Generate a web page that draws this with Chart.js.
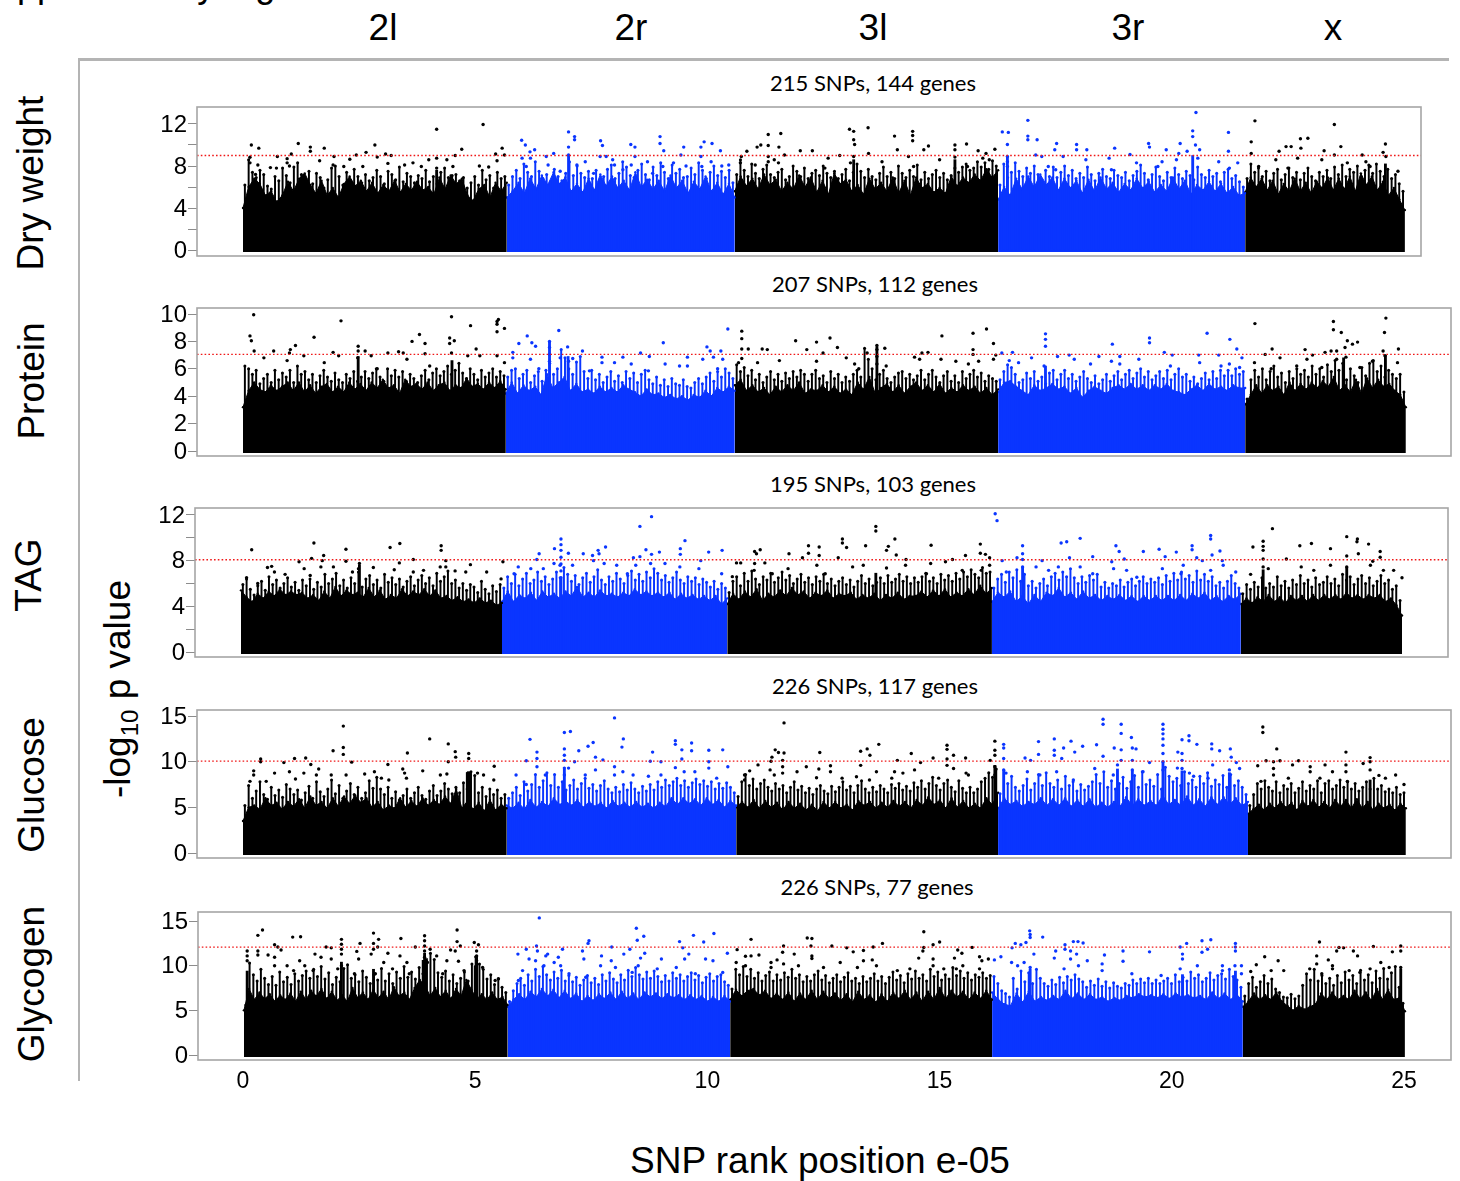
<!DOCTYPE html>
<html><head><meta charset="utf-8">
<script src="https://cdn.jsdelivr.net/npm/chart.js@4"></script>
<style>
html,body{margin:0;padding:0;background:#fff;width:1460px;height:1181px;overflow:hidden;position:relative}
canvas{position:absolute}
.t{position:absolute;font-family:"Liberation Sans",Arial,sans-serif;font-size:37px;color:#000;white-space:nowrap;line-height:1;transform:translate(-50%,-50%)}
.r{transform:translate(-50%,-50%) rotate(-90deg)}
.s{font-family:Lato,sans-serif;font-size:22px}
.f{position:absolute;background:#b4b4b4}
sub{font-size:24px;line-height:0}
</style></head><body>
<div class="t" style="left:-27px;top:-33px;transform:none;font-size:36px">Supplementary Figure</div>
<div class="f" style="left:78px;top:58px;width:1371px;height:3px"></div>
<div class="f" style="left:78px;top:58px;width:2px;height:1023px"></div>
<div id="labels"></div>
<div id="charts"></div>
<script>
const armNames=["2l","2r","3l","3r","x"];
const xTicksLabelled=[0,5,10,15,20,25];

// ---- Dry weight ----
const dryBreaks=[0,5.68,10.59,16.26,21.58,25.02];
const dry2l=[4.0,6.0,6.8,6.3,5.2,5.6,4.6,5.2,6.5,5.6,6.8,7.3,6.2,5.4,6.6,5.2,5.9,5.0,6.3,7.0,6.1,6.6,5.6,6.4,5.4,6.2,5.6,6.6,5.5,6.3,5.7,6.5,5.7,6.0,5.3,6.9,5.8,7.1,6.3,6.8,5.2,4.7,5.8,6.2,5.0,6.4,5.6,6.4];
const dry2r=[5.0,5.6,6.4,5.4,6.8,5.8,7.1,6.2,7.4,6.3,6.9,5.6,6.3,5.5,6.8,5.7,7.2,6.1,7.0,5.9,6.6,5.7,7.4,6.0,6.7,5.8,6.6,5.6,7.1,5.9,6.6,5.4,6.5,5.8,7.0,5.6,6.4,5.3,6.3,5.0];
const dry3l=[5.6,7.0,6.1,6.8,5.8,7.2,6.2,6.7,5.6,6.4,5.8,7.1,6.0,6.9,5.5,6.6,5.3,7.3,6.3,6.7,5.6,6.2,5.3,6.8,5.8,6.4,5.6,6.9,5.4,6.6,5.2,6.9,5.9,6.3,5.5,5.9,5.4,7.0,6.1,6.9,6.4,7.2,6.6,7.7,6.9,7.6];
const dry3r=[4.8,6.0,5.2,6.8,5.8,7.0,6.0,7.2,6.2,6.9,5.7,6.8,5.9,6.6,5.4,6.7,5.6,6.9,5.8,6.4,5.5,6.3,5.7,6.8,5.9,6.5,5.5,6.2,5.6,6.9,5.8,6.6,5.3,6.2,5.7,6.5,5.6,6.3,5.4,6.0,5.2,5.4];
const dryX=[5.5,6.9,6.0,6.8,5.7,6.6,5.3,6.3,5.6,6.8,5.6,6.4,5.4,6.5,5.9,6.9,5.7,6.8,5.8,7.0,5.6,7.3,6.2,7.0,5.7,6.5,5.2,5.9,4.8,3.8];
const dry2lTop=[6.2,8.6,7.4,6.9,7.6,7.2,6.1,5.8,7.0,6.6,7.8,7.1,6.4,7.9,8.3,7.2,6.8,7.5,6.3,7.3,6.9,5.9,6.7,7.8,8.0,7.0,6.2,7.4,6.6,7.7,7.0,6.4,7.2,6.6,6.9,7.6,7.0,6.3,7.5,7.2,6.7,7.9,6.5,7.3,7.0,6.4,7.1,6.8,7.6,6.5,7.0,6.3,7.4,7.8,6.9,7.1,7.2,6.6,6.9,5.9,6.4,7.0,6.2,7.6,6.7,7.1,5.9,7.4,6.8,7.0];
const dry2rTop=[6.2,7.0,7.6,6.8,8.2,7.4,7.0,8.4,7.5,6.8,7.2,6.5,7.7,7.0,6.6,7.3,8.4,7.1,8.0,7.3,6.9,7.5,6.8,7.6,6.7,7.0,7.7,8.1,6.8,7.3,8.4,7.9,7.1,6.9,7.6,8.2,7.2,6.7,7.9,7.1,8.3,7.4,6.8,8.1,7.3,7.7,6.9,7.0,7.8,7.2,8.3,7.6,6.8,7.4,8.0,7.1,7.5,6.9,7.6,6.4];
const dry3lTop=[7.2,8.6,7.6,7.0,8.2,7.3,6.8,7.7,8.1,7.2,6.9,7.4,7.7,6.7,7.0,8.0,7.5,7.0,7.8,6.8,7.3,7.6,7.1,8.0,7.3,6.9,7.5,6.8,7.2,7.7,6.6,7.4,8.2,7.5,6.9,7.7,7.0,6.7,7.3,7.9,7.0,7.4,6.8,8.0,7.3,6.9,7.6,7.0,8.1,6.7,7.4,6.8,7.2,7.6,6.9,7.3,6.7,7.1,7.8,7.4,7.9,8.2,7.6,7.8,8.4,7.9,8.3,7.7,8.5,8.0];
const dry3rTop=[6.2,8.2,6.9,7.4,8.3,7.5,7.0,7.8,7.3,8.0,7.2,6.7,7.6,7.0,7.9,6.9,7.4,8.0,7.1,7.6,6.8,7.3,6.9,7.9,7.2,6.6,7.3,7.7,7.0,6.8,7.6,7.1,6.9,7.4,6.6,7.1,7.5,8.1,7.3,6.7,7.2,7.9,7.0,6.6,7.4,6.9,7.8,7.2,6.8,7.5,7.1,6.7,7.9,7.2,6.9,7.6,7.0,7.3,6.5,7.4,7.7,6.8,7.1,6.5,6.0];
const dryXTop=[6.8,8.2,7.4,7.8,7.0,7.5,6.6,7.3,7.7,6.7,7.2,7.8,6.9,7.4,6.7,7.3,7.8,7.0,6.6,7.4,7.0,7.6,6.8,7.9,7.2,8.1,7.0,7.7,7.4,8.0,7.0,7.6,8.1,7.3,8.2,7.5,7.0,7.7,6.8,7.2,6.3,5.6];
const dryTowers=[[7.01,9.0],[16.46,8.9],[20.45,9.0],[13.15,8.6],[4.17,7.6],[15.33,8.6],[24.6,8.2]];
const dryBlackDots=[[.18,10],[.34,9.7],[.15,8.84],[.15,8.3],[.27,7.2],[.32,8.1],[.74,8.9],[.95,8.7],[1.04,9.15],[1.19,10.15],[1.45,9.8],[1.45,9.4],[1.75,9.7],[1.65,8.5],[1.96,8.9],[2.44,9.05],[2.65,9.3],[2.84,10],[2.89,8.85],[3.07,9.15],[3.19,9],[4.17,11.5],[4.17,8.75],[4.17,7.8],[4.71,9.6],[4.57,9],[5.17,11.95],[5.44,9.15],[5.58,9.7],[5.63,9.05],[5.47,8.5],[5.09,8],[5.29,7.9],[.59,7.85],[.72,7.8],[.95,8.3],[1.0,8],[2.3,8.65],[2.58,7.95],[3.12,8.25],[3.48,8.1],[3.66,8.3],[3.84,7.95],[4.0,8.6],[4.39,8.6],[4.52,7.95],[1.94,8.1],[2.17,7.95],[10.85,9.4],[10.73,8.9],[11.07,9.8],[11.15,10],[11.31,11],[11.31,9.95],[11.58,11.1],[11.54,9.8],[11.66,9.05],[11.31,8.9],[11.44,8.6],[10.71,8.3],[11.03,8.1],[11.31,8.4],[11.53,8.3],[12,9.45],[12.26,9.45],[12.6,8.75],[12.85,9],[13.06,11.5],[13.15,11.3],[13.15,10.5],[13.17,10.05],[13.15,8.9],[13.46,11.65],[13.47,9.2],[14.03,10.85],[14.42,11.3],[14.42,10.9],[14.42,10.4],[14.09,9.55],[14.33,8.9],[14.66,9.55],[14.76,9.9],[15.33,10],[15.33,9.55],[15.33,8.85],[15.58,10.1],[15.83,9.45],[16,9.2],[16.19,9.6],[16.07,8.6],[15.93,8.75],[15,8.6],[13.76,8.4],[13.08,8.3],[12.53,7.8],[14.44,7.95],[15.6,7.95],[21.79,12.3],[21.71,10.3],[21.71,9.2],[22.31,9.4],[22.46,9.85],[22.57,9.85],[22.77,10.6],[22.93,10.65],[22.78,9.7],[22.71,8.75],[23.28,9.45],[23.5,11.95],[23.64,9.85],[23.5,9.05],[24.1,9.05],[24.6,10.1],[24.55,9.3],[24.61,8.9],[22.24,8.6],[23.23,8.6],[23.78,8.3],[24.18,8.4],[21.87,7.95],[22.5,7.8],[24.27,7.95],[24.87,7.5]];
const dryBlueDots=[[6,10.45],[6.08,10],[6.18,9.35],[6.28,9.55],[6.69,9.2],[6.53,8.9],[7.01,11.25],[7.14,10.8],[7.14,10.5],[7.01,9.8],[7.01,9.05],[7.7,10.4],[7.74,9.95],[7.69,8.9],[7.82,8.9],[8.35,10.05],[8.44,9.8],[8.44,8.9],[8.98,10.8],[8.98,10.15],[9.06,9.45],[9.49,9.8],[9.43,9.05],[9.86,9.8],[9.93,10.3],[9.86,8.9],[10.1,10.15],[10.28,9.45],[6.01,8.75],[6.1,7.95],[6.19,8.75],[6.57,8.1],[7.19,8.1],[7.37,8.4],[7.96,8.6],[8,8.1],[8.36,8.1],[8.71,8.4],[9.04,7.95],[9.27,8.3],[9.54,8],[9.88,7.95],[10.08,8.4],[10.31,8],[10.46,8.1],[6.83,7.5],[7.55,7.3],[8.18,7.65],[8.82,7.3],[16.35,11.25],[16.48,11.2],[16.46,10.05],[16.9,12.35],[16.9,10.85],[16.9,10.5],[17.1,10.5],[16.46,8.9],[16.46,8.4],[16.46,7.95],[17.52,10.15],[17.48,9.55],[17.95,10.05],[17.95,9.55],[18.17,9.55],[18.77,9.7],[19.1,9.1],[19.5,10.15],[19.52,9.8],[19.88,9.55],[20.18,10.15],[20.52,13.1],[20.45,11.35],[20.45,10.8],[20.51,10],[20.6,9.55],[21.22,11.2],[21.22,9.4],[20.15,9.2],[20.33,9.4],[20.56,8.75],[18.65,8.75],[17.07,9.05],[17.2,8.9],[17.66,8.9],[18.15,8.6],[19.24,8.3],[19.79,8.4],[20.1,8.6],[21.01,8.4],[21.42,8.3],[17.34,7.95],[18.7,7.65],[17.5,7.65],[19.7,7.95],[21.24,7.8]];

// ---- Protein ----
const proteinBreaks=[0,5.66,10.59,16.26,21.58,25.04];
const protein2l=[3.2,4.4,5.0,4.5,4.3,4.8,4.4,4.7,5.0,4.4,5.0,4.3,4.8,4.2,4.7,4.9,4.3,4.7,4.3,5.0,4.5,4.9,4.4,5.0,4.6,5.2,4.6,4.8,4.2,5.2,4.7,4.9,4.5,5.0,4.4,4.8,5.0,4.4,4.8,4.6,5.3,4.7,4.9,4.5,5.0,4.6,5.1,4.5];
const protein2r=[4.2,5.0,4.2,4.8,4.4,4.7,4.1,5.6,4.6,5.0,5.4,4.4,4.9,4.3,4.5,4.2,4.7,4.3,4.6,4.3,4.8,4.5,4.3,4.0,4.5,4.1,4.2,3.9,4.1,3.8,4.0,3.7,4.1,3.9,4.4,4.0,4.6,4.3,4.7,4.4];
const protein3l=[4.8,5.2,4.4,4.8,4.3,4.6,4.1,4.7,4.3,4.8,4.4,5.0,4.2,4.5,4.4,4.8,4.3,4.7,4.2,4.5,4.1,5.0,4.5,5.4,4.2,4.6,4.9,4.3,4.8,4.2,4.7,5.0,4.4,4.8,4.3,4.9,4.2,4.6,4.3,4.8,4.4,4.7,4.2,4.6,4.1,4.5];
const protein3r=[4.3,5.0,5.1,4.7,4.4,4.1,4.8,4.4,4.6,4.9,4.5,4.7,4.2,4.6,3.9,4.4,4.7,4.4,4.2,4.6,4.8,4.5,4.9,4.5,4.8,4.4,4.8,4.5,4.9,4.4,4.3,4.1,4.5,4.8,4.4,4.9,4.5,4.7,4.4,4.8,4.6,4.6];
const proteinX=[3.4,4.1,4.8,4.2,4.8,4.4,4.7,4.1,5.0,4.4,4.9,4.5,5.0,4.6,5.1,4.7,5.4,4.4,4.8,4.3,5.2,4.2,5.3,4.6,5.2,4.7,4.9,4.4,4.1,3.2];
const protein2lTop=[6.2,6.0,5.6,5.9,4.9,5.3,5.6,5.0,5.9,5.2,5.7,5.4,5.9,5.0,6.2,5.6,5.8,5.2,5.6,5.0,5.5,5.9,5.4,5.1,5.7,5.2,5.0,5.6,5.3,5.8,5.1,5.4,5.8,5.3,5.7,6.0,5.4,5.1,6.0,5.5,5.9,5.4,5.8,5.1,5.6,5.3,5.0,5.5,5.9,5.2,5.7,6.0,5.5,5.8,6.2,5.6,5.9,6.4,5.7,5.3,6.0,5.6,5.2,5.9,5.4,5.7,6.0,5.4,5.8,5.5];
const protein2rTop=[5.4,5.9,6.0,5.3,5.6,5.9,5.0,5.5,5.8,5.1,5.9,6.4,5.6,6.0,7.4,6.8,6.0,5.6,6.5,6.9,5.8,5.3,5.9,5.2,5.6,5.0,5.4,5.8,5.1,5.5,5.0,5.8,5.3,5.7,5.0,5.6,5.9,5.2,4.9,5.4,4.8,5.2,4.7,5.3,4.9,4.8,5.2,4.7,4.6,5.0,5.3,4.9,5.4,5.7,5.1,5.8,5.4,6.0,5.7,5.3];
const protein3lTop=[6.3,5.8,6.1,5.5,5.9,5.2,5.6,5.0,5.4,5.8,5.2,5.6,5.1,5.7,5.3,5.8,5.4,5.9,5.6,5.1,5.6,5.9,5.3,5.5,5.0,5.8,5.3,5.6,5.0,5.4,5.1,5.6,5.9,5.4,7.5,6.7,6.0,5.2,5.6,5.9,5.3,5.0,5.4,5.7,5.8,5.3,5.6,5.2,5.5,5.9,5.2,5.6,5.9,5.4,5.0,5.5,5.8,5.1,5.5,5.0,5.8,5.3,5.6,5.9,5.4,5.7,5.1,5.5,5.3,5.1];
const protein3rTop=[5.2,5.8,6.3,6.1,5.6,5.0,5.2,5.7,5.3,5.8,5.1,5.4,4.9,5.7,5.9,5.2,5.6,5.9,5.3,5.6,5.1,5.4,5.8,5.3,5.0,5.5,4.9,5.2,5.6,5.1,5.5,5.8,5.2,5.6,5.9,5.3,5.7,6.0,5.4,5.8,5.2,5.5,5.8,5.3,5.9,5.2,5.6,6.0,5.4,5.6,5.1,5.4,4.9,5.3,5.7,5.2,5.8,5.3,5.9,5.5,5.9,5.5,6.0,5.6,5.8];
const proteinXTop=[3.8,5.2,5.9,5.4,6.0,5.2,5.8,6.2,5.4,5.7,5.0,5.8,5.3,6.0,5.6,5.9,5.4,6.2,5.6,6.0,5.4,6.3,5.8,6.6,5.9,6.4,5.2,6.0,5.5,5.0,6.1,5.5,6.4,6.6,5.8,6.2,5.4,5.9,5.6,5.3,5.6,4.3];
const proteinTowers=[[13.65,7.6],[6.6,8],[7.0,6.9],[24.6,7.0],[23.7,6.8],[4.5,6.6],[2.48,6.9],[17.28,6.2]];
const proteinBlackDots=[[.23,9.95],[.15,8.4],[.18,8.05],[.24,7.3],[.66,7.3],[1.13,7.7],[1.53,8.3],[1.02,7.4],[1,7.15],[2.11,9.5],[1.94,7.2],[2.06,6.95],[2.48,7.65],[2.48,7.3],[2.63,7.3],[3.12,7.15],[3.35,7.25],[3.45,7.15],[3.64,8],[3.8,8.5],[3.92,7.85],[3.92,7.1],[4.45,8.25],[4.45,7.85],[4.55,8.05],[4.49,7.15],[4.49,9.8],[4.9,9.15],[5.02,7.45],[5.47,9.45],[5.5,9.6],[5.47,9.25],[5.47,8.7],[5.63,8.95],[5.47,6.95],[1.31,6.95],[.45,6.8],[.95,6.6],[1.75,6.45],[2.47,6.8],[2.76,6.95],[3.53,6.7],[4.02,6.2],[4.84,6.95],[5.1,6.95],[5.63,6.45],[2.89,6],[10.74,8.75],[10.74,8.2],[10.74,7.45],[10.88,7.45],[11.18,7.45],[11.29,7.4],[11.9,8.05],[10.74,6.75],[10.67,6.45],[11.08,6.45],[11.55,6.6],[12.14,7.4],[12.35,7.95],[12.64,8.25],[12.49,7.15],[12.8,7.55],[13.44,7.15],[13.65,7.7],[13.65,7.4],[13.65,6.9],[13.65,6.35],[13.82,7.5],[14.46,6.85],[14.62,7.15],[14.75,7.2],[15.05,8.4],[15.72,8.6],[15.72,7.4],[15.72,7.05],[16.01,8.9],[16.16,7.85],[16.21,7],[12.35,6.55],[12.99,6.8],[13.17,6.35],[13.26,6],[14.57,6.7],[15.03,6.7],[15.35,6.55],[15.62,6.35],[15.84,6.55],[13.85,6.2],[16.16,6.7],[21.79,9.3],[22.01,7.05],[22.16,7.45],[22.33,6.8],[22.87,7.4],[23.03,7],[23.3,7.2],[23.43,7.3],[23.48,9.45],[23.48,8.85],[23.65,8.65],[23.78,8.05],[23.89,7.8],[24,7.95],[23.73,7.55],[23.55,7.3],[24.61,9.7],[24.58,8.65],[24.55,7.3],[24.88,7.45],[24.59,6.95],[23.75,6.85],[23.55,6.7],[21.78,6.45],[22.69,6.2],[23.23,6.1],[24.05,6.1],[24.32,6.55],[24.86,6.45],[22.14,6],[22.91,6.7]];
const proteinBlueDots=[[5.81,7.2],[5.81,6.8],[5.94,7.85],[6.12,8.4],[6.22,7.9],[6.3,7.65],[6.6,8],[6.6,7.55],[6.6,7.05],[6.6,6.55],[6.8,8.8],[6.99,7.6],[7.01,6.55],[7.31,7.3],[7.73,6.85],[7.73,6.45],[8.18,6.85],[8.56,7.15],[8.75,6.9],[9.05,7.9],[9.57,6.85],[9.57,6.2],[9.99,7.6],[10.06,7.3],[10.29,7.3],[10.44,8.9],[10.13,6.85],[10.33,6.7],[6.19,6.7],[6.37,6],[6.83,6.8],[7.1,6.75],[7.46,5.85],[8,6.45],[8.36,6.35],[9.09,6.35],[9.4,6.2],[9.9,6.7],[10.22,6],[8.73,5.85],[16.34,7.15],[16.57,7.2],[16.5,6.6],[17.28,8.55],[17.28,8.15],[17.28,7.65],[17.54,6.9],[17.79,7],[17.9,6.7],[18.72,7.8],[18.88,6.9],[18.88,6.35],[19.52,8.25],[19.52,7.9],[19.84,7.2],[20.01,7],[20.76,8.6],[20.58,7],[21.25,8.15],[21.4,7.45],[21.51,6.8],[21.01,7],[16.7,6.45],[16.98,6.8],[18.43,6.9],[18.7,6.55],[19.29,6.7],[20.6,6.45],[21.24,6.35],[21.06,6.2],[17.25,6.2],[18.25,6.35],[19.97,6.2],[21.46,6.1]];

// ---- TAG ----
const tagBreaks=[0,5.62,10.47,16.17,21.53,25];
const tag2l=[5.4,4.8,4.4,5.1,4.7,5.3,4.9,5.5,5.0,5.3,5.0,5.2,4.7,5.0,4.5,5.3,4.7,5.7,4.9,5.4,5.0,5.2,4.8,5.6,4.8,5.4,4.6,5.0,4.7,5.5,4.9,5.3,5.0,5.5,4.9,5.4,4.7,4.9,4.5,4.8,4.4,4.6,4.3,4.7,4.3,4.5,4.1,4.3];
const tag2r=[4.4,5.3,4.4,5.0,4.7,5.2,4.5,5.3,4.8,5.1,4.7,5.3,4.9,5.7,4.8,5.2,4.8,5.4,4.9,5.1,4.8,5.2,4.9,5.5,5.0,5.3,4.9,5.2,4.8,5.2,4.6,5.1,4.7,5.0,4.6,4.9,4.5,4.9,4.2,4.7];
const tag3l=[4.2,5.1,4.6,5.3,4.8,5.5,4.5,5.1,4.8,5.4,4.9,5.6,5.0,5.3,4.7,5.2,4.9,5.4,4.7,5.1,4.9,5.2,4.6,5.0,4.7,5.1,4.5,5.0,4.7,5.2,4.6,4.9,4.9,5.3,4.8,5.4,4.9,5.5,4.8,5.2,4.9,5.5,5.0,5.8,5.1,5.6];
const tag3r=[4.4,5.2,4.8,5.3,4.4,4.9,4.2,5.0,4.4,5.2,4.9,5.6,4.8,5.2,4.6,5.3,4.7,5.0,4.5,4.9,4.6,5.0,4.5,4.9,4.4,4.9,4.5,4.9,4.5,4.9,4.5,5.0,4.5,5.1,4.7,5.2,4.5,4.9,4.4,4.9,4.6,5.1];
const tagX=[4.2,4.7,4.3,4.8,4.4,5.0,4.4,4.8,4.3,4.9,4.5,4.9,4.4,5.0,4.5,5.0,4.6,5.0,4.6,5.2,4.7,5.0,4.6,5.0,4.7,5.0,4.4,4.7,4.1,3.2];
const tag2lTop=[5.9,6.4,5.5,5.0,5.8,6.2,5.4,6.6,5.9,6.3,5.6,6.0,6.5,5.7,6.1,5.4,6.3,5.8,6.4,5.5,6.1,5.7,6.8,6.0,6.4,6.9,5.8,6.3,5.6,6.5,6.0,7.0,5.7,6.4,6.7,5.9,6.3,5.6,6.8,6.1,6.5,5.9,6.4,5.7,6.2,6.6,5.8,6.3,6.7,6.0,6.5,5.8,6.9,6.2,6.6,7.1,6.0,6.3,5.6,6.0,5.4,5.9,5.7,5.2,6.2,5.5,5.1,5.8,5.3,5.9];
const tag2rTop=[5.6,6.6,6.0,6.8,5.8,6.4,6.9,6.0,6.3,7.0,6.2,6.6,5.9,6.4,7.0,6.5,7.4,6.8,6.2,6.7,5.9,6.5,6.9,6.1,6.6,7.2,6.3,5.9,6.6,6.2,6.9,6.4,6.0,6.7,7.1,6.3,6.8,6.2,7.0,6.5,7.3,6.9,6.3,6.7,6.1,6.5,7.0,6.3,6.0,6.6,6.2,6.5,5.9,6.4,6.1,5.7,6.2,5.5,6.0,5.6];
const tag3lTop=[5.2,6.2,6.6,5.8,6.9,6.2,7.1,6.4,5.9,6.6,6.3,6.9,6.1,6.5,7.0,6.3,6.7,6.0,6.4,6.8,6.1,6.5,5.9,6.6,6.2,6.8,6.0,6.4,5.8,6.2,6.5,5.9,6.3,5.7,6.2,6.7,6.0,6.4,5.8,6.1,6.5,6.0,6.7,6.1,6.4,6.8,6.2,6.6,6.0,6.5,6.1,6.6,6.9,6.2,6.5,6.0,6.8,6.3,6.7,6.2,6.9,6.4,7.0,6.6,7.2,6.8,6.5,7.4,6.9,7.0];
const tag3rTop=[5.6,6.4,6.8,6.1,7.0,6.5,7.2,6.2,6.8,5.8,6.2,5.6,6.0,6.4,5.8,6.6,6.9,6.3,7.0,6.6,7.3,6.5,6.0,6.6,6.1,6.7,6.3,6.8,5.7,6.1,5.6,6.0,5.8,6.3,5.7,6.1,6.4,5.8,6.2,6.6,6.0,6.4,6.1,6.5,5.9,6.7,6.2,6.9,6.3,7.0,6.4,6.7,6.1,7.1,6.3,6.8,6.2,6.6,5.8,6.1,5.6,6.2,6.7,6.0,5.6];
const tagXTop=[5.1,5.9,5.5,6.1,5.7,6.5,5.6,6.0,5.7,6.6,5.8,6.2,5.6,6.3,5.9,6.7,6.0,6.3,5.7,6.5,5.9,6.1,6.6,6.0,6.4,5.8,6.8,6.3,6.6,5.9,6.4,6.7,6.0,6.5,5.8,6.2,6.7,6.0,6.3,5.5,5.8,4.5];
const tagTowers=[[6.89,6.4],[16.83,7.4],[23.81,7.4],[2.55,7.6],[13.67,6.9],[22.01,7.2]];
const tagBlackDots=[[.23,8.95],[.12,6.5],[.66,7.5],[.57,7.4],[1.25,7.9],[1.52,8.2],[1.57,9.55],[1.78,8.45],[1.75,8],[2.26,9],[2.26,7.95],[3.21,9.15],[3.42,9.5],[3.41,7.8],[3.71,8.1],[4.31,9.3],[4.31,8.9],[4.41,8],[4.41,7.45],[4.94,7.65],[5.64,7.9],[2.55,7.75],[2.85,7.4],[3.3,7.2],[3.71,7],[3.93,7.15],[4.29,7.45],[4.61,7.1],[5.29,7],[4.84,7],[.72,7],[1.36,7.3],[1.72,7.45],[1.99,7.45],[2.4,7],[2.53,7.3],[.36,6],[.95,6.8],[1.49,6.7],[5.6,6.4],[10.67,7.8],[10.76,7.8],[11.06,8.8],[11.1,8.6],[11.18,8.95],[11.28,7.8],[11.06,7.75],[11.8,8.6],[11.78,7.3],[11.05,7.15],[10.58,6.6],[11.44,6.85],[12.09,8.25],[12.22,9.3],[12.22,8.65],[12.45,9.2],[12.45,8.45],[12.95,9.9],[12.95,9.55],[13.04,9.15],[13.45,9.3],[13.67,11],[13.67,10.6],[13.9,8.9],[13.94,9.25],[14.08,9.9],[14.11,8.5],[14.32,8.1],[14.86,9.35],[15.32,8.1],[15.6,8.45],[15.92,9.45],[15.92,8.65],[16.03,8.55],[16.12,8.25],[16.12,7.6],[12.4,7.6],[13.17,7.45],[13.4,7.6],[13.9,7.35],[14.31,7.6],[14.85,7.75],[15.17,7.9],[12.86,8.25],[15.94,7.15],[15.53,7.15],[14.76,6.85],[12.58,6.85],[21.79,9.2],[22.01,9.7],[22.01,9.25],[22.01,8.9],[22.01,8.15],[22.21,10.8],[22.51,8.15],[22.8,9.3],[23.05,9.5],[23.46,9.05],[23.81,10.1],[24.04,9.9],[24.03,9.65],[24.28,9.45],[23.81,8.4],[24.06,8.6],[24.53,8.8],[24.53,8.3],[24.37,7.95],[24.32,7.6],[23.81,7.45],[23.46,7.6],[22.12,7.3],[22.83,7.45],[22.01,7.45],[25,6.5],[24.82,7.15],[24.6,7.15],[21.74,6.8],[23.1,7.15]];
const tagBlueDots=[[6.42,8.6],[6.37,8.1],[6.75,9.05],[6.89,9.9],[6.89,9.4],[6.89,8.9],[6.89,8.3],[6.89,7.7],[6.89,7.1],[6.89,6.5],[7.05,8.65],[7.37,8.6],[7.57,8.45],[7.69,8.9],[7.71,8.6],[7.85,9.2],[8.59,11],[8.84,11.85],[8.45,8.25],[8.59,8.35],[8.72,8.95],[8.84,8.55],[9.01,8.75],[9.46,9.05],[9.46,8.55],[9.56,9.75],[9.9,8],[10.07,8.75],[10.36,8.9],[5.97,7.45],[6.24,7.3],[6.51,7.3],[6.74,7.75],[7.14,7.6],[7.59,8],[7.82,7.75],[8.09,7.6],[8.5,7.6],[8.82,7.75],[9.13,7.75],[9.45,7.45],[9.86,7.3],[10.35,6.85],[5.88,6.85],[6.87,7.6],[8.32,6.85],[16.24,12.1],[16.28,11.5],[16.83,9.3],[16.83,8.6],[16.83,8.1],[16.83,7.45],[16.71,8.25],[16.39,8],[16.48,7],[17.66,9.55],[17.78,9.65],[18.07,9.95],[17.84,8.25],[18.34,8.35],[18.84,9.3],[18.91,8.8],[19.02,8.15],[19.43,8.8],[19.77,9],[19.9,8.35],[20.14,8.75],[20.48,9.3],[20.48,8.95],[20.88,10.2],[20.88,9.9],[21.08,8.85],[20.91,8.5],[20.58,8.25],[20.7,8],[21.13,8],[21.15,7.6],[17.25,8],[17.12,7.45],[17.6,7.45],[18.07,7.45],[18.75,7.9],[18.79,7.3],[18.34,6.85],[19.07,7.15],[20.29,7.6],[20.24,6.85],[20.88,7.15],[21.42,7],[19.84,7.3],[19.29,6.55],[17.39,7.15]];

// ---- Glucose ----
const glucoseBreaks=[0,5.68,10.62,16.26,21.64,25.04];
const glucose2l=[3.5,5.0,5.2,4.8,6.0,5.2,5.5,4.8,5.6,5.1,5.9,4.9,6.2,5.2,5.6,4.9,6.0,5.1,6.2,5.4,6.3,5.5,6.0,5.0,5.6,4.7,5.2,4.9,6.0,5.0,5.7,5.1,6.0,5.2,5.8,5.3,6.2,5.4,7.0,4.9,5.7,4.8,5.5,4.6,5.8,4.7,5.3,4.9];
const glucose2r=[5.2,4.9,5.5,4.8,5.8,5.0,5.6,5.1,6.0,5.3,5.7,5.2,5.8,5.0,5.6,5.1,5.5,4.9,5.7,5.1,5.5,5.0,5.6,5.0,5.4,4.9,5.5,5.1,6.0,5.3,6.0,5.4,5.9,5.2,6.0,5.3,5.8,5.0,5.7,5.2];
const glucose3l=[5.0,5.6,5.0,5.8,4.9,5.7,5.0,5.5,4.7,5.6,4.9,5.4,4.7,5.3,4.6,5.6,4.9,5.6,4.9,5.3,4.7,5.7,5.2,5.6,4.9,5.5,5.0,5.7,5.1,5.6,4.9,5.8,5.2,6.1,5.3,5.8,4.9,6.0,5.0,5.7,4.9,5.4,4.9,6.0,5.3,6.6];
const glucose3r=[4.9,6.0,5.3,5.7,5.1,5.6,5.3,6.0,5.2,5.9,5.2,6.0,5.1,5.8,5.1,5.9,5.0,5.5,5.0,5.6,5.1,6.1,5.2,5.9,5.2,5.7,5.2,6.3,5.3,5.8,5.2,6.2,5.2,5.9,5.1,6.1,5.3,6.1,5.3,6.0,5.2,5.6];
const glucoseX=[4.3,4.8,5.3,4.7,5.4,4.9,5.6,5.0,5.5,4.7,5.7,5.1,5.8,5.0,5.6,4.9,5.8,5.1,5.8,4.9,5.9,4.9,5.6,4.7,5.4,4.9,5.3,4.7,5.4,4.9];
const glucose2lTop=[5.2,7.4,6.0,6.8,7.8,6.4,5.9,7.2,6.3,6.9,6.1,7.5,7.0,6.4,6.9,5.8,6.6,7.3,6.0,7.8,6.7,6.2,7.0,8.0,6.5,7.4,6.0,6.8,7.6,6.4,7.2,6.0,6.6,7.9,7.1,8.3,7.0,6.4,7.2,6.0,6.7,5.8,6.3,7.0,6.0,6.6,7.2,6.3,5.9,6.8,7.4,6.3,6.8,7.6,7.0,6.5,7.2,6.6,7.7,7.0,8.9,8.5,6.6,7.2,6.2,7.0,6.4,6.9,6.0,6.4];
const glucose2rTop=[6.0,6.6,7.2,6.3,7.8,6.8,7.5,8.6,7.2,7.9,8.8,7.4,8.6,7.2,7.8,6.9,7.4,8.0,7.0,7.6,8.2,7.1,7.5,6.8,7.4,7.9,7.0,6.6,7.2,6.7,7.5,6.9,7.7,7.0,6.6,7.3,6.8,7.5,6.9,7.8,7.2,8.0,7.4,7.8,8.2,7.4,7.9,7.2,7.7,8.1,7.5,7.9,7.3,7.8,7.0,7.6,7.1,7.7,7.2,6.6];
const glucose3lTop=[6.2,7.8,8.6,7.4,8.1,7.0,7.6,8.0,7.2,6.8,7.6,7.0,7.4,6.6,7.2,7.8,6.9,7.3,6.6,7.1,6.4,7.0,7.4,6.8,6.5,7.3,6.7,7.2,7.8,6.9,7.3,6.6,7.4,7.9,7.0,6.6,7.2,6.7,7.4,7.0,6.6,7.5,7.1,7.6,6.9,7.3,6.8,7.7,7.2,7.9,7.0,7.6,8.3,7.4,6.9,7.6,8.0,7.2,6.7,7.9,7.1,6.6,7.2,6.6,7.0,7.8,8.2,8.8,8.3,9.2];
const glucose3rTop=[6.5,9.0,7.6,8.4,7.2,6.8,7.4,8.1,6.9,7.6,8.6,7.4,8.8,7.6,7.2,8.0,7.0,8.4,7.4,7.8,6.8,7.5,6.9,7.3,7.8,8.6,7.6,8.9,7.2,7.9,7.0,7.6,8.3,7.1,7.8,8.5,7.2,8.9,7.5,8.0,7.3,8.6,7.0,9.4,8.4,7.8,8.2,7.4,8.9,7.6,8.0,7.2,8.4,7.6,8.8,7.3,8.0,7.5,8.5,7.2,8.6,7.4,7.9,7.2,6.4];
const glucoseXTop=[5.2,6.4,7.6,7.0,7.9,7.2,6.8,7.8,6.6,7.4,7.0,7.6,6.6,7.1,7.8,6.8,7.4,7.0,7.9,6.6,7.6,7.9,7.0,7.4,8.0,7.2,7.8,7.0,7.6,6.8,7.2,7.8,7.0,8.2,7.0,7.4,6.7,7.0,6.6,7.2,6.4,6.6];
const glucoseTowers=[[19.81,10.0],[20.22,9.0],[4.86,8.9],[4.83,8.8],[4.89,8.6],[6.92,9.2],[16.38,8.9],[18.83,9.2],[19.15,9.0],[21.24,8.8],[16.19,9.6],[24.27,8.0]];
const glucoseBlackDots=[[.38,10.3],[.38,10],[.88,9.9],[1.11,10.35],[1.35,10.4],[1.46,9.7],[1.63,9.2],[1.94,11.2],[2.16,13.9],[2.16,11.55],[2.16,10.8],[2.34,9.95],[3.12,9.7],[3.54,10.95],[4.02,12.5],[4.42,11.95],[4.57,11.1],[4.58,10.5],[4.42,10],[4.86,10.9],[4.86,10.35],[5.41,9.5],[.23,9],[.68,8.75],[1,8.9],[1.31,8.75],[.23,8.55],[1.9,8.55],[2.22,8.55],[2.62,8.65],[2.83,8.9],[3.44,9.2],[3.48,8.75],[3.87,9],[4.25,8.55],[4.39,8.65],[4.84,8.75],[5.05,8.75],[5.18,8.55],[5.4,8],[.15,7.85],[.5,7.85],[1.13,8.1],[1.58,8.55],[2.98,8.2],[3.14,8],[3.52,8.2],[11.65,14.25],[11.46,11.3],[11.53,11],[11.65,10.95],[11.39,10.5],[11.37,10.05],[11.62,10.15],[11.09,9.65],[11.62,9.45],[11.62,8.75],[10.8,8.55],[10.91,9],[10.8,8],[11.93,8.9],[11.35,9.1],[11.44,8.55],[12.42,11],[12.13,9.45],[12.4,9.2],[12.65,9.55],[12.65,8.9],[13.3,11.15],[13.44,11.4],[13.69,11.9],[13.5,10.7],[13.3,9.6],[14.09,10.15],[14.03,8.9],[14.39,10.9],[14.59,9.9],[14.86,10.4],[15.16,11.8],[15.16,11.35],[15.16,10.3],[15.16,9.6],[15.3,10.7],[15.3,9.25],[15.56,10.4],[15.57,8.75],[16.19,12.25],[16.19,11.25],[16.19,10.7],[16.09,10.15],[16.19,9.45],[16.19,8.55],[13.64,8.9],[14.46,9.1],[14.21,8.75],[12.35,8.25],[12.9,8.2],[13.21,8.35],[13.49,8],[14.98,8.2],[15.62,8.55],[13.97,8.2],[21.96,13.8],[21.96,13.2],[22.26,11.4],[22.03,10.1],[22.19,10],[22.33,10.1],[22.73,10.1],[23.75,11.05],[24.27,10.45],[24.27,10],[23.75,9.65],[23.75,8.9],[21.85,9.55],[22.19,9.25],[22.19,8.55],[22.6,9.65],[22.98,9.45],[22.98,8.9],[23.3,9.65],[23.46,8.9],[24.12,9.8],[24.27,9.1],[24.46,8.5],[24.82,8.55],[21.92,7.85],[22.51,8.2],[23.19,8.2],[23.78,7.85],[24.6,8.2],[25,7.5]];
const glucoseBlueDots=[[6.18,12.45],[6.1,10.1],[6.33,11.05],[6.33,10.35],[6.33,9.45],[6.92,13.2],[7.05,13.3],[6.92,11.4],[6.92,10.7],[6.92,10.15],[6.92,9.3],[7.01,9.3],[7.14,10],[7.23,11.2],[7.43,11.7],[7.54,12.1],[7.59,10.5],[7.75,10.2],[8,14.8],[8.19,12.5],[8.16,11.6],[8,9.45],[8.82,11.05],[8.77,10.05],[9,10],[9.31,12.3],[9.31,11.9],[9.45,11.3],[9.45,10.3],[9.66,12.05],[9.66,11.2],[10.03,11.25],[10.33,11.3],[10.03,10],[10.03,9.3],[9.31,9.35],[10.44,9.45],[5.88,8.55],[6.51,8.55],[7.59,9.1],[7.37,8.55],[8,8.55],[8.18,8.9],[8.4,8.55],[9,8.55],[9.5,8.9],[9.73,8.9],[10.2,8.2],[6.92,8.55],[6.1,7.5],[8.73,8.4],[16.38,11.9],[16.38,11.5],[16.38,10.35],[16.38,9.1],[16.84,10.4],[16.96,10.15],[17.13,12.2],[17.13,10.8],[17.47,12.5],[17.47,11.25],[17.47,10.7],[17.67,11.5],[17.63,10.35],[17.83,12.25],[17.91,11.05],[18.08,11.7],[18.38,11.85],[18.52,14.65],[18.52,14.1],[18.52,10.6],[18.76,11.5],[18.91,14.1],[18.91,13.1],[18.91,11.3],[18.83,9.65],[18.91,10.15],[19.13,12.65],[19.15,11.5],[19.23,11.4],[19.15,10.15],[19.15,9.1],[19.52,9.9],[19.81,14.1],[19.81,13.55],[19.81,13.05],[19.81,12.5],[19.81,11.8],[19.81,10.9],[19.81,10],[19.81,9.1],[20.22,12.4],[20.37,12.85],[20.37,12.3],[20.54,11.9],[20.13,11.05],[20.22,10.9],[20.22,10.15],[20.22,9.25],[20.12,9.3],[20.86,11.95],[20.86,11.4],[21.03,11.2],[21.26,11.4],[21.28,10.5],[21.39,9.9],[20.88,9.65],[21.24,9.1],[20.38,8.75],[16.89,8.9],[16.43,8.75],[17.52,8.9],[18.34,9.25],[18.74,8.55],[19.38,8.9],[20.47,8.4],[17.16,8.55],[17.88,8],[21.46,9.25],[20.78,8.2]];

// ---- Glycogen ----
const glycogenBreaks=[0.02,5.7,10.49,16.13,21.53,25.02];
const glycogen2l=[5.0,7.4,6.2,7.0,6.3,6.8,6.0,6.7,6.2,6.9,6.0,7.1,6.2,7.2,6.6,7.4,6.3,7.1,6.1,6.7,6.0,7.5,6.4,7.0,6.2,7.3,6.4,7.1,6.2,7.6,6.6,7.0,6.2,7.5,8.4,7.8,6.6,7.5,6.5,7.2,6.3,7.4,6.6,8.4,7.3,6.3,6.8,6.2,7.0,6.2,6.5,5.6];
const glycogen2r=[5.4,6.2,6.8,6.2,7.1,6.5,7.4,6.6,7.3,6.4,7.2,6.3,6.9,6.0,6.6,6.1,6.8,6.3,7.0,6.2,7.1,6.3,6.9,6.2,7.0,6.5,6.9,6.3,6.8,6.4,6.7,6.2,6.7,6.2,6.6,6.0,6.5,6.0,6.6,6.0];
const glycogen3l=[6.2,7.3,6.6,7.2,7.4,6.7,7.2,6.3,6.9,6.2,7.0,6.0,6.9,6.2,7.2,6.2,7.1,6.3,6.9,6.1,6.8,5.9,7.1,6.2,6.7,5.9,6.8,6.0,7.0,6.3,7.2,6.2,7.0,6.0,7.1,6.2,7.5,6.3,7.2,6.5,7.1,6.2,7.0,6.3,7.2,6.2];
const glycogen3r=[7.0,6.2,5.7,5.5,6.9,5.9,7.1,6.0,6.5,6.1,6.6,6.2,7.2,6.3,6.9,6.2,6.8,6.2,6.5,6.0,6.4,6.1,6.6,6.4,6.8,6.5,6.7,6.4,6.8,6.3,6.9,6.5,6.7,6.4,6.6,6.2,7.0,6.3,6.9,6.2,6.8,6.0];
const glycogenX=[5.4,6.0,6.9,6.2,6.7,6.2,7.0,6.0,5.5,5.0,5.5,5.1,5.4,5.7,6.9,6.2,7.0,6.2,6.6,6.2,7.2,6.3,7.0,6.1,7.4,6.2,7.3,6.2,6.4,4.9];
const glycogen2lTop=[5.6,10.3,9.0,8.3,9.6,8.6,7.9,8.8,7.8,9.3,8.2,8.7,7.9,9.1,8.3,8.9,9.4,8.6,9.6,8.8,9.9,8.5,9.2,7.9,8.7,8.2,9.7,10.1,8.6,9.0,8.2,9.4,8.7,8.0,9.0,8.4,9.7,8.3,9.1,8.0,9.3,8.6,9.9,8.7,9.3,8.5,9.8,9.1,10.5,11.4,10.7,9.2,8.7,9.4,8.3,9.0,8.0,8.6,9.3,8.3,10.2,11.0,10.2,9.6,8.5,9.0,7.9,8.5,7.6,7.0];
const glycogen2rTop=[6.0,7.2,8.0,8.6,7.8,9.0,8.3,9.6,8.8,9.9,9.0,8.4,9.3,8.6,9.5,8.3,8.9,8.2,8.7,7.8,8.4,8.9,8.1,8.6,7.9,9.0,8.3,9.2,8.5,8.1,9.0,8.4,9.5,8.8,9.8,9.0,8.5,9.3,8.6,9.4,8.8,8.2,8.9,8.3,9.2,8.6,9.0,8.3,8.8,9.2,8.4,8.9,8.1,8.7,9.1,8.3,8.8,9.0,8.2,7.8];
const glycogen3lTop=[7.4,9.6,9.0,9.9,8.8,9.6,8.6,9.2,8.3,8.9,9.3,8.3,9.0,8.4,9.2,8.7,9.6,8.6,9.0,8.2,8.8,8.3,9.0,9.4,8.4,8.9,8.1,8.6,9.0,8.2,8.7,9.2,8.3,8.6,8.0,8.8,8.2,8.6,9.1,8.3,8.8,8.0,8.7,9.3,8.4,8.9,8.1,9.1,8.5,9.4,8.6,9.0,8.3,9.6,8.8,9.3,8.4,9.0,8.5,9.8,8.9,9.4,8.6,9.2,8.4,9.0,8.7,9.2,8.6,8.9];
const glycogen3rTop=[8.8,8.0,7.2,6.9,6.5,8.6,7.4,9.4,8.2,9.2,8.0,9.6,8.6,8.0,7.7,8.4,7.9,8.7,8.1,8.8,8.4,9.0,8.5,8.2,7.6,8.3,7.8,8.5,7.7,8.2,7.5,8.1,7.7,7.5,8.0,7.8,8.4,8.0,8.5,8.1,8.6,8.0,8.4,8.0,8.3,8.6,8.0,9.0,8.2,8.7,8.3,9.3,8.6,9.0,8.2,8.6,9.2,8.4,8.9,9.1,8.5,9.6,8.8,8.4,7.6];
const glycogenXTop=[6.6,8.0,8.7,7.6,8.2,8.9,8.0,8.5,7.4,7.0,6.5,6.4,6.8,6.3,6.6,7.8,9.1,8.4,9.6,8.3,8.9,8.0,8.6,7.8,8.9,8.1,9.3,8.4,8.9,8.0,9.5,8.4,9.0,8.1,9.4,8.6,9.7,8.5,9.2,9.9,7.6,5.8];
const glycogenTowers=[[3.91,11.4],[3.88,10.6],[3.95,10.8],[5.03,11.0],[5.0,10],[2.12,10.4],[.09,9.4],[2.81,9.6],[16.95,9.6],[21.37,9.4],[20.23,9.0],[24.93,9.6]];
const glycogenBlackDots=[[.32,13.4],[.42,14],[.32,11.65],[.32,11.2],[.09,11.65],[.09,11.1],[.09,10.55],[.68,12.35],[.75,12.1],[.82,11.75],[.54,11.2],[.68,10.95],[1.07,13.2],[1.24,13.25],[1.22,10.55],[1.33,10],[1.55,11.3],[1.68,10.95],[1.79,12.1],[1.9,12],[1.9,10.75],[2.12,12.95],[2.12,12.4],[2.12,11.85],[2.12,11.3],[2.12,10],[2.52,12.5],[2.45,11.6],[2.49,10.75],[2.81,13.65],[2.81,12.5],[2.81,11.85],[2.76,11.3],[2.92,12.95],[2.9,12.1],[3.12,11.4],[3.03,10.35],[3.4,13.05],[3.38,11.1],[3.53,10.35],[3.71,12.1],[3.91,13.35],[3.91,12.8],[3.91,12.2],[3.91,11.65],[3.91,10.95],[3.97,10.35],[4.03,11.85],[4.17,11.1],[4.39,10.55],[4.47,11.75],[4.61,14],[4.61,12.7],[4.64,10.5],[4.57,11.65],[4.68,12.2],[4.98,12.6],[5.07,12.35],[5.03,11.65],[5.03,11.1],[5.03,10.55],[5.16,9.8],[5.5,8.55],[.68,10],[.95,10],[1.09,9.45],[1.51,9.45],[2.04,9.65],[2.4,9.1],[2.85,9.1],[3.22,9.65],[3.58,9.1],[4.3,9.1],[4.76,9.45],[5.43,8.35],[10.94,12.95],[10.64,11.8],[10.62,10.35],[10.82,11.05],[10.94,11.1],[11.11,11.2],[11.37,10.35],[11.5,10.65],[11.64,12.2],[11.62,11.5],[11.87,11.3],[11.64,10.2],[11.37,9.8],[10.82,10],[11.96,10],[12.15,13.1],[12.25,13.05],[12.23,12.2],[12.25,11.1],[12.25,10.8],[12.68,12.2],[13,12],[13.14,11.55],[13.36,11.7],[13.57,12.1],[13.77,12.5],[13.36,10.55],[13.55,10.65],[12.86,10.35],[14.66,13.8],[14.66,12.05],[14.86,12.35],[15,12.65],[14.64,11.65],[14.55,10.85],[14.86,10.75],[14.86,10],[15.39,11.75],[15.48,11.4],[15.7,12.05],[15.32,10.85],[15.86,11],[15.91,10.55],[16.05,10.75],[15.86,9.65],[15.5,10],[12.5,9.8],[13.23,9.8],[13.64,10],[14.09,9.45],[14.36,9.65],[15.09,9.65],[15.36,9.65],[22,11],[21.82,10.1],[21.7,9.35],[22.29,10.55],[22.14,9.45],[22.41,9.45],[23.18,12.65],[23.12,11.1],[23.12,10.2],[22.97,9.65],[23.55,11.65],[23.6,12.05],[23.7,12],[23.37,10.65],[23.46,10],[23.91,11.65],[24,11.1],[24.34,12.15],[24.75,11.55],[24.93,12.2],[24.93,11.65],[24.93,9.8],[23.46,9.65],[23.82,9.45],[24.5,10.35],[24.68,9.8],[24.05,9.25],[24.27,9.65],[23.23,9.1]];
const glycogenBlueDots=[[6.38,15.35],[6.32,12.2],[6.1,11.85],[6.34,11.65],[5.92,11.3],[6.16,10.75],[6.3,10.55],[6.52,11.1],[6.56,11.3],[6.88,11.85],[6.79,10.95],[6.7,10.35],[7.45,12.8],[7.43,12.5],[7.31,11.65],[7.34,10.75],[7.94,12.1],[7.72,11.1],[7.93,10.55],[8.2,11.3],[8.33,11.85],[8.47,14.2],[8.49,12.85],[8.63,13.3],[8.65,11.4],[8.56,10.85],[8.51,10],[9.01,10.75],[9.4,12.7],[9.47,12],[9.6,11.3],[9.51,10.75],[9.7,13.4],[9.92,12.65],[10.14,13.6],[9.96,10.75],[10.12,10.55],[10.43,11.4],[6.02,9.45],[6.48,10],[6.84,10],[7.7,10],[8.02,9.8],[8.92,9.65],[9.33,9.8],[9.74,9.1],[10.33,9.25],[8.38,9.25],[7.02,9.1],[5.93,8.35],[7.38,8.7],[16.32,11],[16.18,10.65],[16.56,12],[16.63,12.5],[16.75,12.35],[16.86,12.6],[16.94,13.9],[16.95,13.5],[16.95,13.15],[17.22,13.2],[17.03,11.3],[17.5,11.65],[17.47,10.85],[17.7,12.35],[17.7,11.85],[17.82,11.65],[17.88,12.7],[17.98,12.7],[18.09,12.55],[17.95,11.3],[17.82,10.75],[18.18,10.55],[18.55,11.2],[18.5,10.2],[18.95,11.65],[18.95,10.5],[19.52,11.55],[20.32,12.5],[20.18,12.1],[20.23,11.3],[20.23,10.75],[20.65,12.8],[20.84,12.9],[20.77,11.85],[20.65,11.5],[21.37,12.5],[21.37,12.1],[21.37,11.65],[20.55,10],[21.09,10],[21.36,10],[21.5,10],[16.55,10.35],[16.68,10],[16.82,10.35],[16.95,9.8],[17.99,10],[20.18,9.65],[17.68,9.65],[18.5,9.45],[19.14,9.1],[19.77,8.9],[21.09,9.45],[21.5,9.1]];

const traits=["Dry weight","Protein","TAG","Glucose","Glycogen"];
const titles=["215 SNPs, 144 genes","207 SNPs, 112 genes","195 SNPs, 103 genes","226 SNPs, 117 genes","226 SNPs, 77 genes"];
const thresholds=[9,7.05,8.08,10.06,12.08];

const panels=[
 {breaks:dryBreaks,arms:[dry2l,dry2r,dry3l,dry3r,dryX],tops:[dry2lTop,dry2rTop,dry3lTop,dry3rTop,dryXTop],towers:dryTowers,black:dryBlackDots,blue:dryBlueDots,box:[197,107,1421,256],zeroPx:250,upp:10.5,x0:243,step:2,every:4},
 {breaks:proteinBreaks,arms:[protein2l,protein2r,protein3l,protein3r,proteinX],tops:[protein2lTop,protein2rTop,protein3lTop,protein3rTop,proteinXTop],towers:proteinTowers,black:proteinBlackDots,blue:proteinBlueDots,box:[197,308,1451,456],zeroPx:451,upp:13.7,x0:243,step:2,every:2},
 {breaks:tagBreaks,arms:[tag2l,tag2r,tag3l,tag3r,tagX],tops:[tag2lTop,tag2rTop,tag3lTop,tag3rTop,tagXTop],towers:tagTowers,black:tagBlackDots,blue:tagBlueDots,box:[195,508,1448,657],zeroPx:652,upp:11.42,x0:241,step:2,every:4},
 {breaks:glucoseBreaks,arms:[glucose2l,glucose2r,glucose3l,glucose3r,glucoseX],tops:[glucose2lTop,glucose2rTop,glucose3lTop,glucose3rTop,glucoseXTop],towers:glucoseTowers,black:glucoseBlackDots,blue:glucoseBlueDots,box:[197,710,1451,858],zeroPx:853,upp:9.13,x0:243,step:5,every:5},
 {breaks:glycogenBreaks,arms:[glycogen2l,glycogen2r,glycogen3l,glycogen3r,glycogenX],tops:[glycogen2lTop,glycogen2rTop,glycogen3lTop,glycogen3rTop,glycogenXTop],towers:glycogenTowers,black:glycogenBlackDots,blue:glycogenBlueDots,box:[198,912,1451,1060],zeroPx:1055,upp:8.93,x0:243,step:5,every:5,last:true}
];
const BLACK="#000000",BLUE="#0a35ff",PXX=46.44,FONT='"Liberation Sans",Arial,sans-serif';

const boxPlugin={id:"box",afterDatasetsDraw(c){const a=c.chartArea,g=c.ctx;g.save();g.strokeStyle="#a6a6a6";g.lineWidth=1.6;g.strokeRect(a.left,a.top,a.right-a.left,a.bottom-a.top);g.restore();}};

const root=document.getElementById("charts");
panels.forEach((p,i)=>{
  const [l,t,r,b]=p.box;
  const canvasLeft=130,pad=16,axisH=p.last?48:0;
  const cv=document.createElement("canvas");
  cv.width=r+4-canvasLeft;cv.height=b-t+pad+(p.last?axisH:pad);
  cv.style.left=canvasLeft+"px";cv.style.top=(t-pad)+"px";
  root.appendChild(cv);
  const xmin=(l-p.x0)/PXX,xmax=(r-p.x0)/PXX;
  const ymin=(p.zeroPx-b)/p.upp,ymax=(p.zeroPx-t)/p.upp;
  const floor=-2/p.upp;
  const ds=[];
  p.arms.forEach((vals,k)=>{
    const s=p.breaks[k],e=p.breaks[k+1],col=k%2?BLUE:BLACK;
    const pts=vals.map((v,j)=>({x:s+(e-s)*j/(vals.length-1),y:v}));
    ds.push({data:pts,showLine:true,borderColor:col,backgroundColor:col,borderWidth:1,pointRadius:1.2,pointBackgroundColor:col,pointBorderWidth:0,tension:0,fill:{value:floor},order:5});
    const tv=p.tops[k];
    const tp=tv.map((v,j)=>({x:s+(e-s)*(j+0.5)/tv.length,y:v}));
    ds.push({type:"bar",data:tp,grouped:false,barThickness:1.3,backgroundColor:col,borderWidth:0,order:4});
    ds.push({data:tp,showLine:false,pointRadius:1.5,pointBorderWidth:0,pointBackgroundColor:col,order:4});
  });
  const armOf=x=>{let k=0;while(k<4&&x>p.breaks[k+1])k++;return k;};
  const tw=p.towers;
  ds.push({type:"bar",data:tw.map(d=>({x:d[0],y:d[1]})),grouped:false,barThickness:2.2,backgroundColor:tw.map(d=>armOf(d[0])%2?BLUE:BLACK),borderWidth:0,order:4});
  ds.push({data:p.black.map(d=>({x:d[0],y:d[1]})),showLine:false,pointRadius:1.7,pointBorderWidth:0,pointBackgroundColor:BLACK,order:3});
  ds.push({data:p.blue.map(d=>({x:d[0],y:d[1]})),showLine:false,pointRadius:1.7,pointBorderWidth:0,pointBackgroundColor:BLUE,order:3});
  ds.push({data:[{x:xmin,y:thresholds[i]},{x:xmax,y:thresholds[i]}],showLine:true,pointRadius:0,borderColor:"#f01818",borderWidth:1.4,borderDash:[1.6,2.2],fill:false,order:1});
  new Chart(cv,{type:"scatter",data:{datasets:ds},plugins:[boxPlugin],options:{
    responsive:false,animation:false,events:[],
    layout:{padding:{top:pad,bottom:p.last?0:pad,left:0,right:4}},
    plugins:{legend:{display:false},tooltip:{enabled:false},title:{display:false}},
    scales:{
      x:{type:"linear",min:xmin,max:xmax,offset:false,display:!!p.last,border:{display:false},grid:{display:false,drawTicks:false},
         afterFit(s){s.height=axisH;},
         ticks:{stepSize:5,includeBounds:false,autoSkip:false,maxRotation:0,padding:8,color:"#000",font:{family:FONT,size:23},
           callback:v=>xTicksLabelled.includes(v)?String(v):""}},
      y:{type:"linear",min:ymin,max:ymax,border:{display:false},grid:{drawOnChartArea:false,drawTicks:true,tickLength:9,color:"#8c8c8c",lineWidth:1},
         afterFit(s){s.width=l-canvasLeft;},
         ticks:{stepSize:p.step,includeBounds:false,autoSkip:false,padding:1,labelOffset:1,color:"#000",font:{family:FONT,size:24},
           callback:v=>(v%p.every===0)?String(v):""}}
    }}});
});

// text labels
const lab=document.getElementById("labels");
function put(txt,x,y,cls){const d=document.createElement("div");d.className="t "+(cls||"");d.style.left=x+"px";d.style.top=y+"px";d.innerHTML=txt;lab.appendChild(d);}
const armLabelX=[383,631,873,1128,1333];
armNames.forEach((n,i)=>put(n,armLabelX[i],27));
const traitPos=[[30,183],[31,381],[28,575],[31,785],[31,984]];
traits.forEach((n,i)=>put(n,traitPos[i][0],traitPos[i][1],"r"));
const titlePos=[[873,83],[875,284],[873,484],[875,686],[877,887]];
titles.forEach((n,i)=>put(n,titlePos[i][0],titlePos[i][1],"s"));
put("-log<sub>10</sub> p value",117,689,"r");
put("SNP rank position e-05",820,1160);
</script>
</body></html>
